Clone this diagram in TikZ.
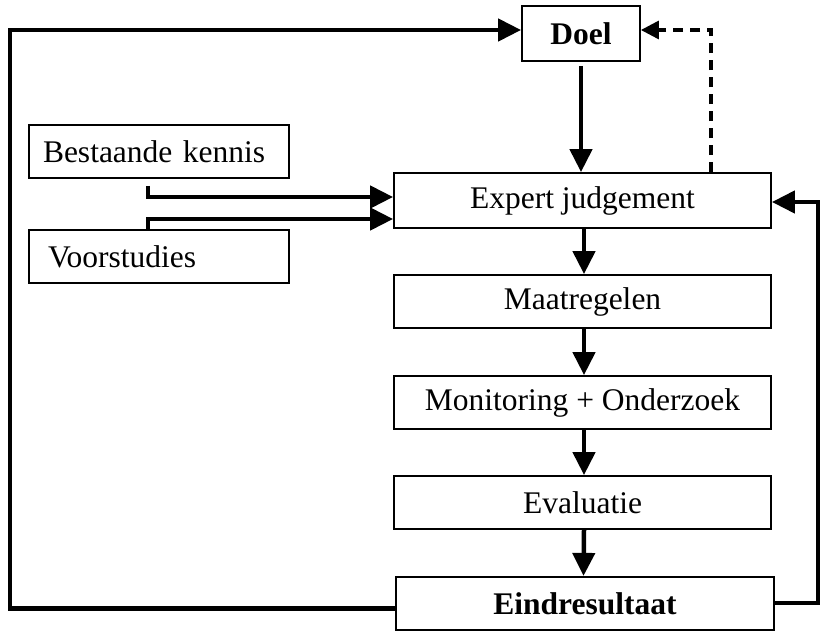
\documentclass[tikz,border=0pt]{standalone}
\usepackage{fontspec}
\setmainfont{Liberation Serif}
\usetikzlibrary{arrows.meta}
\begin{document}
\begin{tikzpicture}[x=1pt,y=-1pt,
  txt/.style={font=\fontsize{31.5}{34}\selectfont},
  box/.style={draw, line width=1.8pt, rectangle, inner sep=0pt, txt},
  arr/.style={line width=4.5pt, -{Triangle[length=23pt,width=22pt]}},
  darr/.style={line width=3.2pt, dash pattern=on 10pt off 7pt, -{Triangle[length=18pt,width=18pt]}}]
\useasboundingbox (0,0) rectangle (821,631);
\node[box, minimum width=118pt, minimum height=55pt, font=\fontsize{31.5}{34}\selectfont\bfseries] (doel) at (581,33.5) {Doel};
\node[box, minimum width=260pt, minimum height=53pt, text width=232pt, align=left] (bk) at (159,151.5) {Bestaande kennis};
\node[box, minimum width=260pt, minimum height=53pt, text width=222pt, align=left] (vs) at (159,256.5) {Voorstudies};
\node[box, minimum width=377pt, minimum height=55pt] (ej) at (582.5,200.5) {Expert judgement};
\node[box, minimum width=377pt, minimum height=53pt] (mr) at (582.5,301.5) {Maatregelen};
\node[box, minimum width=377pt, minimum height=53pt] (mo) at (582.5,402.5) {Monitoring + Onderzoek};
\node[box, minimum width=377pt, minimum height=53pt] (ev) at (582.5,502.5) {Evaluatie};
\node[box, minimum width=378pt, minimum height=53pt, line width=2.2pt, font=\fontsize{31.5}{34}\selectfont\bfseries] (er) at (585,603.5) {Eindresultaat};
\coordinate (lc) at (10,30);
\coordinate (rc) at (818,603);
\coordinate (dc) at (711,30);
% main chain
\draw[arr] ([yshift=-4pt]doel.south) -- (doel.south |- ej.north);
\draw[arr] ([xshift=1.5pt]ej.south) -- ([xshift=1.5pt]ej.south |- mr.north);
\draw[arr] ([xshift=1.5pt]mr.south) -- ([xshift=1.5pt]mr.south |- mo.north);
\draw[arr] ([xshift=1.5pt]mo.south) -- ([xshift=1.5pt]mo.south |- ev.north);
\draw[arr] ([xshift=1.5pt]ev.south) -- ([xshift=-1.5pt]er.north);
% inputs
\draw[arr] ([xshift=-11pt,yshift=-7pt]bk.south) |- ([yshift=3.5pt]ej.west);
\draw[arr] ([xshift=-11pt]vs.north) |- ([yshift=-18.5pt]ej.west);
% feedback loops
\draw[arr] ([yshift=-5pt]er.west) -| (lc) -- ([yshift=3.5pt]doel.west);
\draw[arr] (er.east |- rc) -- (rc) |- ([yshift=-1.5pt]ej.east);
\draw[darr] (ej.north -| dc) -- (dc) -- ([yshift=3.5pt]doel.east);
\end{tikzpicture}
\end{document}
